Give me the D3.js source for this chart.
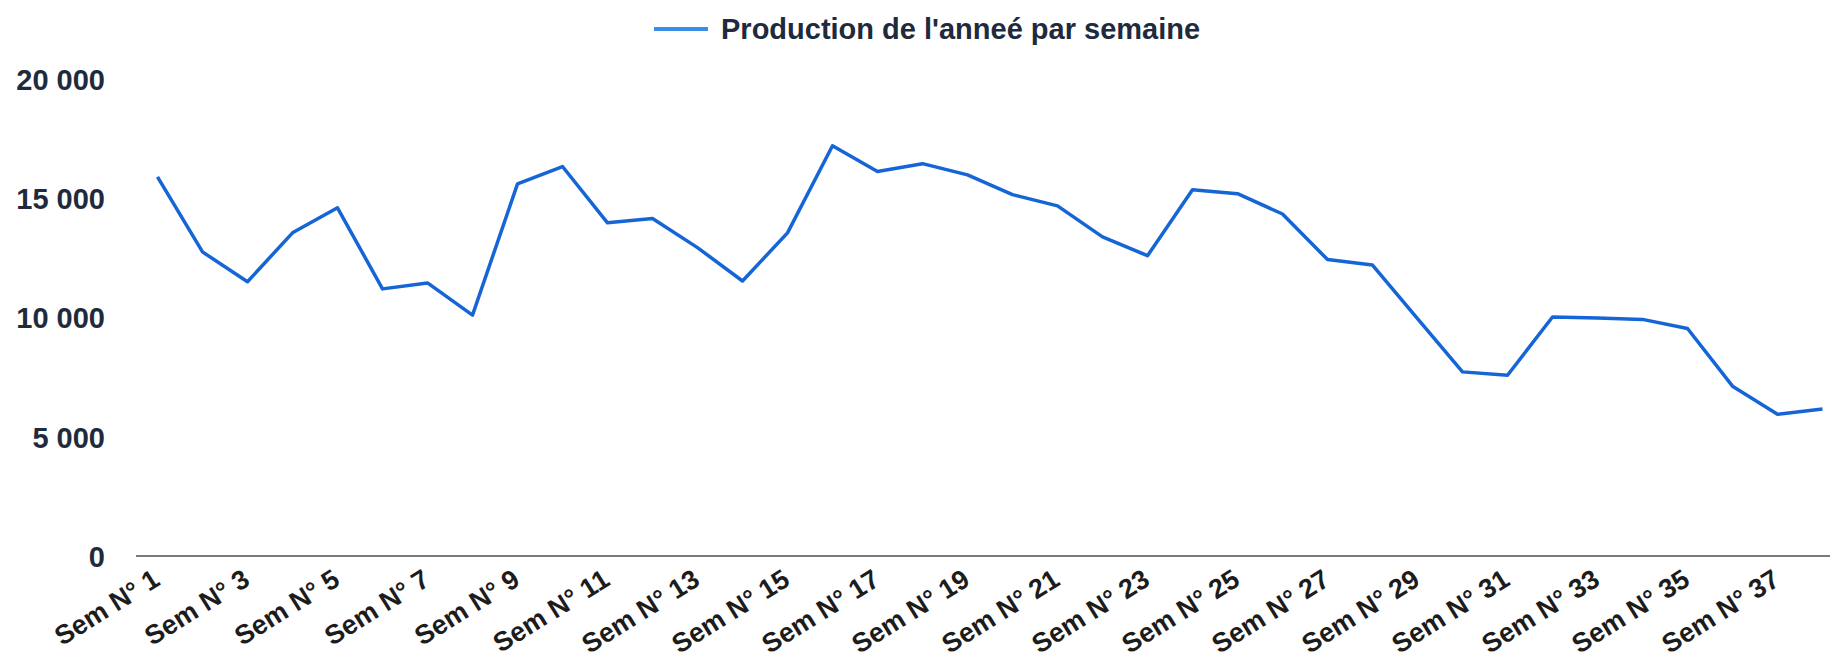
<!DOCTYPE html>
<html>
<head>
<meta charset="utf-8">
<script src="https://cdn.jsdelivr.net/npm/d3@7"></script>
<style>
  body { margin: 0; background: #fff; }
  svg { display: block; font-family: "Liberation Sans", Arial, sans-serif; }
</style>
</head>
<body>
<svg></svg>
<script>
// Data
var weeks = d3.range(1, 39).map(function(n) { return "Sem N° " + n; });
var production = [15900, 12750, 11500, 13550, 14600, 11200, 11450, 10100, 15600, 16330,
    13970, 14150, 12930, 11530, 13550, 17200, 16120, 16450, 15980, 15150,
    14680, 13380, 12590, 15360, 15190, 14340, 12430, 12200, 9950, 7720,
    7580, 10020, 9980, 9920, 9540, 7120, 5940, 6160];
var yTicks = [0, 5000, 10000, 15000, 20000];
var seriesName = "Production de l'anneé par semaine";

// Set up SVG size
var width = 1830;
var height = 659;
var margin = { left: 135, top: 79, bottom: 103 };

var svg = d3.select("svg")
    .attr("width", width)
    .attr("height", height);

var x = d3.scaleBand()
    .domain(weeks)
    .range([margin.left, margin.left + weeks.length * 45]);

var y = d3.scaleLinear()
    .domain([0, 20000])
    .range([height - margin.bottom, margin.top]);

var fmt = function(d) { return d3.format(",")(d).replace(/,/g, " "); };

// Y axis labels (no line)
var yAxis = svg.append("g")
    .attr("transform", "translate(" + (margin.left - 30) + ",0)")
    .call(d3.axisLeft(y).tickValues(yTicks).tickFormat(fmt).tickSize(0).tickPadding(0));
yAxis.select(".domain").remove();
yAxis.selectAll("text")
    .attr("fill", "#1f2a3d")
    .style("font-size", "29px")
    .style("font-weight", "bold")
    .attr("dy", "0.36em");

// Baseline
svg.append("line")
    .attr("x1", margin.left + 1)
    .attr("x2", width)
    .attr("y1", y(0))
    .attr("y2", y(0))
    .style("stroke", "#7a7a7a")
    .style("stroke-width", 2);

// X axis labels, every other week
var xAxis = svg.append("g")
    .attr("transform", "translate(0," + y(0) + ")")
    .call(d3.axisBottom(x)
        .tickValues(weeks.filter(function(d, i) { return i % 2 == 0; }))
        .tickSize(0));
xAxis.select(".domain").remove();
xAxis.selectAll("text")
    .attr("fill", "#1c1c1c")
    .style("font-size", "27px")
    .style("font-weight", "bold")
    .attr("text-anchor", "end")
    .attr("y", 0)
    .attr("dy", 0)
    .attr("transform", "translate(4,28) rotate(-32)");

// Line
var line = d3.line()
    .x(function(d, i) { return x(weeks[i]) + x.bandwidth() / 2; })
    .y(function(d) { return y(d); });

svg.append("path")
    .datum(production)
    .attr("d", line)
    .attr("fill", "none")
    .style("stroke", "#1565d6")
    .style("stroke-width", 3.5)
    .style("stroke-linejoin", "round");

// Legend
var legend = svg.append("g")
    .attr("transform", "translate(654,29)");
legend.append("line")
    .attr("x1", 0)
    .attr("x2", 54)
    .style("stroke", "#3a8ee6")
    .style("stroke-width", 4);
legend.append("text")
    .attr("x", 67)
    .attr("dy", "0.36em")
    .text(seriesName)
    .attr("fill", "#1f2a3d")
    .style("font-size", "29px")
    .style("font-weight", "bold");
</script>
</body>
</html>
